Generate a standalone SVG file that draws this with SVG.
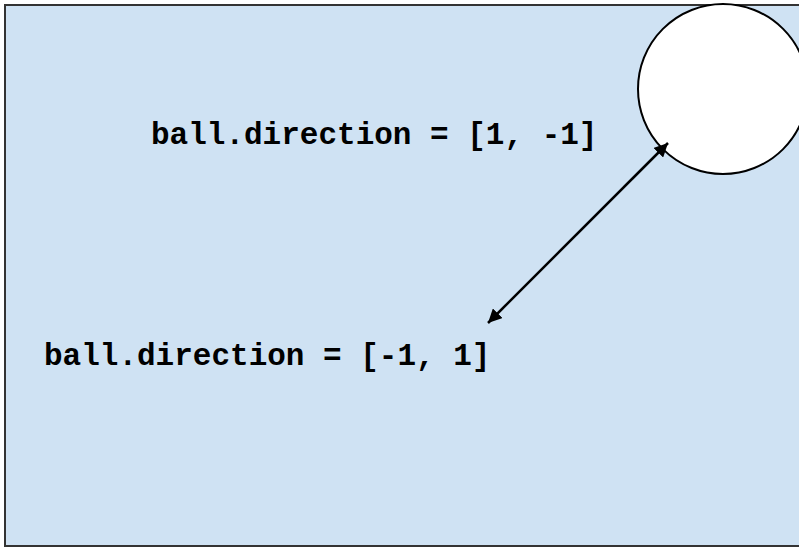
<svg xmlns="http://www.w3.org/2000/svg" width="799" height="548" viewBox="0 0 799 548">
<style>
.lbl{font-family:"Liberation Mono","Courier New",monospace;font-weight:bold;font-size:31px;fill:#000}
</style>
<defs>
<marker id="ah" viewBox="0 0 10 10" refX="10" refY="5" markerWidth="5.5" markerHeight="5.5" orient="auto-start-reverse" markerUnits="strokeWidth">
<path d="M0,0 L10,5 L0,10 z" fill="#000"/>
</marker>
</defs>
<g id="field">
<rect x="5" y="5" width="810" height="541" fill="#cfe2f3" stroke="#333" stroke-width="2"/>
</g>
<g id="ball">
<circle cx="723" cy="89" r="85" fill="#fff" stroke="#000" stroke-width="2"/>
</g>
<g id="label-top">
<text class="lbl" x="151" y="144">ball.direction = [1, -1]</text>
</g>
<g id="label-bottom">
<text class="lbl" x="44" y="365">ball.direction = [-1, 1]</text>
</g>
<g id="connectors">
<line x1="668" y1="143" x2="488" y2="323" stroke="#000" stroke-width="2.5" marker-start="url(#ah)" marker-end="url(#ah)"/>
</g>
</svg>
